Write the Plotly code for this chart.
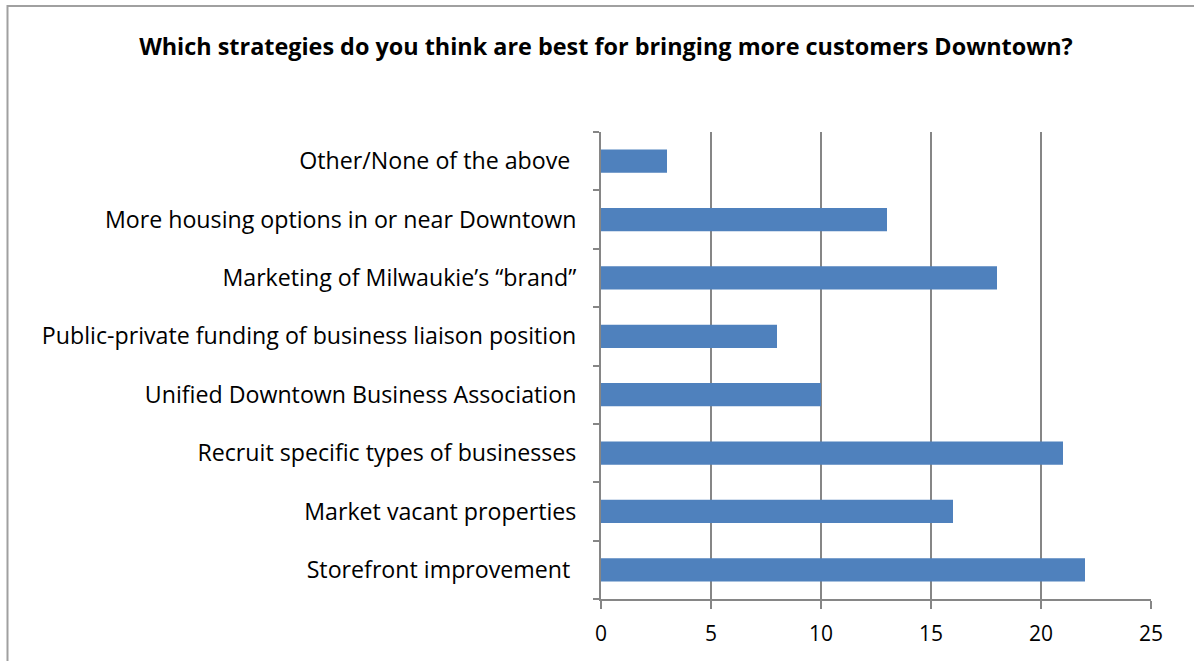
import plotly.graph_objects as go

# Survey responses, listed bottom to top
strategies = [
    "Storefront improvement ",
    "Market vacant properties",
    "Recruit specific types of businesses",
    "Unified Downtown Business Association",
    "Public-private funding of business liaison position",
    "Marketing of Milwaukie\u2019s \u201cbrand\u201d",
    "More housing options in or near Downtown",
    "Other/None of the above ",
]
responses = [22, 16, 21, 10, 8, 18, 13, 3]
x_ticks = [0, 5, 10, 15, 20, 25]

FONT = "'Open Sans', sans-serif"
GRID = "#868686"

fig = go.Figure(
    go.Bar(
        x=responses,
        y=strategies,
        orientation="h",
        marker=dict(color="#4F81BD", line=dict(width=0)),
        hoverinfo="x+y",
    )
)

fig.update_layout(
    width=1194,
    height=661,
    margin=dict(l=601, r=43, t=132, b=62),
    paper_bgcolor="white",
    plot_bgcolor="white",
    bargap=0.6,
    showlegend=False,
    font=dict(family=FONT, size=20, color="#000000"),
    title=dict(
        text="<b>Which strategies do you think are best for bringing more customers Downtown?</b>",
        x=0.5075,
        xanchor="center",
        y=1 - 47 / 661,
        yanchor="middle",
        yref="container",
        font=dict(family=FONT, size=23.4, color="#000000"),
    ),
    xaxis=dict(
        range=[0, 25],
        tickvals=x_ticks,
        showgrid=True,
        gridcolor=GRID,
        gridwidth=2,
        zeroline=False,
        showline=True,
        linecolor=GRID,
        linewidth=2,
        ticks="outside",
        ticklen=8,
        tickwidth=2,
        tickcolor=GRID,
        ticklabelstandoff=7,
        tickfont=dict(family=FONT, size=21),
        fixedrange=True,
    ),
    yaxis=dict(
        type="category",
        categoryorder="array",
        categoryarray=strategies,
        showgrid=False,
        zeroline=False,
        showline=True,
        linecolor=GRID,
        linewidth=2,
        ticks="outside",
        tickson="boundaries",
        ticklen=6,
        tickwidth=2,
        tickcolor=GRID,
        ticklabelstandoff=18,
        tickfont=dict(family=FONT, size=23.2),
        fixedrange=True,
    ),
    shapes=[
        # frame around the chart area (left and top edges)
        dict(
            type="path",
            xref="paper",
            yref="paper",
            path="M %f %f L %f %f L %f %f" % (
                (7.5 - 601) / 550, (599 - 700) / 467,
                (7.5 - 601) / 550, (599 - 6) / 467,
                (1200 - 601) / 550, (599 - 6) / 467,
            ),
            line=dict(color="#A0A0A0", width=2),
        ),
    ],
)

fig.write_html("out.html")
